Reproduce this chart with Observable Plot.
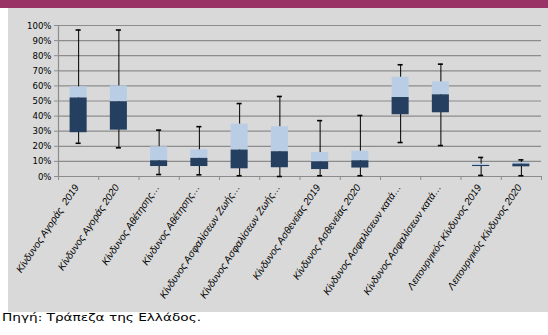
<!DOCTYPE html>
<html><head><meta charset="utf-8">
<script src="https://cdn.jsdelivr.net/npm/d3@7"></script>
<script src="https://cdn.jsdelivr.net/npm/@observablehq/plot@0.6"></script>
<style>
body{margin:0;background:#fff;width:548px;height:335px;overflow:hidden;}
#banner{height:8px;background:#993366;}
#panel{margin-left:8px;background:#d9d9d9;height:304px;}
#panel svg{display:block;}
#src{font:10.5px "DejaVu Sans";line-height:12px;margin:-1px 0 0 2px;color:#000;transform:scaleX(1.3);transform-origin:0 0;white-space:nowrap;}
</style></head><body>
<div id="banner"></div>
<div id="panel"></div>
<div id="src">Πηγή: Τράπεζα της Ελλάδος.</div>
<script>
const categories = [
  "Κίνδυνος Αγοράς  2019",
  "Κίνδυνος Αγοράς 2020",
  "Κίνδυνος Αθέτησης…",
  "Κίνδυνος Αθέτησης…",
  "Κίνδυνος Ασφαλίσεων Ζωής…",
  "Κίνδυνος Ασφαλίσεων Ζωής…",
  "Κίνδυνος Ασθενείας 2019",
  "Κίνδυνος Ασθενείας 2020",
  "Κίνδυνος Ασφαλίσεων κατά…",
  "Κίνδυνος Ασφαλίσεων κατά…",
  "Λειτουργικός Κίνδυνος 2019",
  "Λειτουργικός Κίνδυνος 2020"
];
const minValues    = [0.22, 0.19, 0.013, 0.011, 0.005, 0.0, 0.005, 0.005, 0.225, 0.205, 0.007, 0.005];
const q1Values     = [0.29, 0.307, 0.066, 0.066, 0.051, 0.058, 0.046, 0.056, 0.409, 0.422, 0.066, 0.064];
const medianValues = [0.52, 0.495, 0.104, 0.12, 0.175, 0.164, 0.097, 0.104, 0.523, 0.541, 0.073, 0.082];
const q3Values     = [0.594, 0.60, 0.197, 0.177, 0.347, 0.33, 0.159, 0.168, 0.658, 0.627, 0.082, 0.093];
const maxValues    = [0.97, 0.97, 0.307, 0.33, 0.483, 0.53, 0.37, 0.404, 0.74, 0.744, 0.126, 0.11];
const yTicks = [0, 0.1, 0.2, 0.3, 0.4, 0.5, 0.6, 0.7, 0.8, 0.9, 1.0];

const rows = categories.map((c, i) => ({
  i, c, min: minValues[i], q1: q1Values[i], median: medianValues[i], q3: q3Values[i], max: maxValues[i]
}));

const grid = "#8c8c8c";
const chart = Plot.plot({
  width: 540, height: 304,
  marginLeft: 50, marginRight: 7, marginTop: 17, marginBottom: 136,
  style: {background: "transparent", fontFamily: "DejaVu Sans Condensed", fontSize: "9.5px", color: "#000"},
  x: {type: "linear", domain: [0, categories.length], axis: null},
  y: {domain: [0, 1], axis: null},
  marks: [
    Plot.ruleY(yTicks, {stroke: grid, strokeWidth: 1.2}),
    Plot.ruleX([0], {stroke: grid, strokeWidth: 1.2}),
    Plot.axisY({ticks: yTicks, tickFormat: d3.format(".0%"), tickSize: 4, tickPadding: 3, stroke: grid, fill: "#000", label: null}),
    Plot.axisX({ticks: d3.range(categories.length + 1), tickFormat: () => "", tickSize: 4, stroke: grid, label: null}),
    Plot.axisX({
      ticks: d3.range(categories.length).map(i => i + 0.5),
      tickFormat: v => categories[Math.floor(v)],
      tickSize: 0, tickPadding: 9, tickRotate: -56, dx: -2, label: null,
      fontFamily: "Liberation Sans", fontSize: 10, fontStyle: "italic", fill: "#000"
    }),
    Plot.ruleX(rows, {x: d => d.i + 0.5, y1: "min", y2: "max", stroke: "#000", strokeWidth: 1}),
    Plot.ruleY(rows, {y: "max", x1: "i", x2: d => d.i + 1, insetLeft: 17.6, insetRight: 17.6, stroke: "#000", strokeWidth: 1.6}),
    Plot.ruleY(rows, {y: "min", x1: "i", x2: d => d.i + 1, insetLeft: 17.6, insetRight: 17.6, stroke: "#000", strokeWidth: 1.6}),
    Plot.rectY(rows, {x1: "i", x2: d => d.i + 1, y1: "median", y2: "q3", insetLeft: 11.6, insetRight: 11.6, fill: "#b9cde5"}),
    Plot.rectY(rows, {x1: "i", x2: d => d.i + 1, y1: "q1", y2: "median", insetLeft: 11.6, insetRight: 11.6, fill: "#243f60"})
  ]
});
document.getElementById("panel").appendChild(chart);
</script>
</body></html>
